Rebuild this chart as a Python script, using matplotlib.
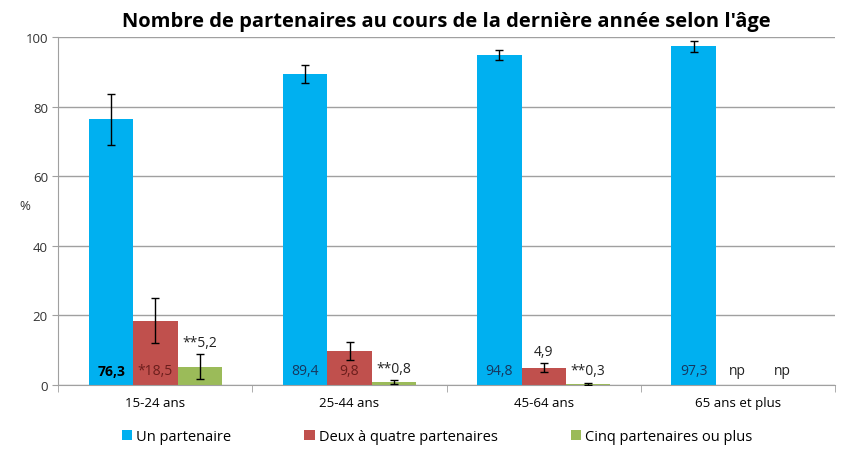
import matplotlib.pyplot as plt
import numpy as np

plt.rcParams['font.family'] = ['Open Sans', 'DejaVu Sans']

ages = ['15-24 ans', '25-44 ans', '45-64 ans', '65 ans et plus']
series = ['Un partenaire', 'Deux à quatre partenaires', 'Cinq partenaires ou plus']

un = [76.3, 89.4, 94.8, 97.3]
deux = [18.5, 9.8, 4.9, np.nan]
cinq = [5.2, 0.8, 0.3, np.nan]

err_un = [7.2, 2.6, 1.5, 1.5]
err_deux = [6.5, 2.6, 1.3, np.nan]
err_cinq = [3.6, 0.6, 0.3, np.nan]

lab_un = ['76,3', '89,4', '94,8', '97,3']
lab_deux = ['*18,5', '9,8', '4,9', 'np']
lab_cinq = ['**5,2', '**0,8', '**0,3', 'np']

colors = ['#00B0F0', '#C0504D', '#9BBB59']

fig = plt.figure(figsize=(8.45, 4.52), dpi=100)
ax = fig.add_axes([0.069, 0.146, 0.919, 0.77])

x = np.arange(len(ages))
w = 0.228
vals = [un, deux, cinq]
errs = [err_un, err_deux, err_cinq]
for i, (v, e) in enumerate(zip(vals, errs)):
    ax.bar(x + (i - 1) * w, v, w, color=colors[i], label=series[i], zorder=2,
           yerr=e, error_kw=dict(ecolor='black', elinewidth=1, capsize=3, capthick=1, zorder=3))

# étiquettes
for j in range(len(ages)):
    ax.text(x[j] - w, 2, lab_un[j], ha='center', va='bottom', fontsize=10,
            color='black' if j == 0 else '#17375E', fontweight='bold' if j == 0 else 'normal', zorder=4)
    # deux
    if j < 2:
        ax.text(x[j], 2, lab_deux[j], ha='center', va='bottom', fontsize=10, color='#6B1E1C', zorder=4)
    elif j == 2:
        ax.text(x[j], deux[j] + err_deux[j] + 1.2, lab_deux[j], ha='center', va='bottom',
                fontsize=10, color='#222222', zorder=4)
    else:
        ax.text(x[j], 2, lab_deux[j], ha='center', va='bottom', fontsize=10, color='#222222', zorder=4)
    # cinq
    if j < 3:
        ax.text(x[j] + w, cinq[j] + err_cinq[j] + 1.3, lab_cinq[j], ha='center', va='bottom',
                fontsize=10, color='#222222', zorder=4)
    else:
        ax.text(x[j] + w, 2, lab_cinq[j], ha='center', va='bottom', fontsize=10, color='#222222', zorder=4)

ax.set_xlim(-0.5, len(ages) - 0.5)
ax.set_ylim(0, 100)
ax.set_yticks(range(0, 101, 20))
ax.grid(axis='y', color='#A0A0A0', linewidth=1, zorder=0)
ax.set_xticks(x)
ax.set_xticklabels(ages, fontsize=9.5)
ax.set_xticks(np.arange(-0.5, len(ages)), minor=True)
ax.tick_params(axis='x', which='major', length=0, pad=8)
ax.tick_params(axis='x', which='minor', length=5, color='#A0A0A0')
ax.tick_params(axis='y', labelsize=9.5, length=4, color='#A0A0A0', labelcolor='#333333')
for s in ['top', 'right']:
    ax.spines[s].set_visible(False)
for s in ['left', 'bottom']:
    ax.spines[s].set_color('#A0A0A0')
fig.text(25 / 845, 1 - 207 / 452, '%', ha='center', va='center', fontsize=9.5, color='#333333')

ax.set_title("Nombre de partenaires au cours de la dernière année selon l'âge",
             fontsize=14.5, fontweight='bold', pad=8)

ax.legend(loc='upper center', bbox_to_anchor=(0.488, -0.09), ncol=3, frameon=False,
          fontsize=10.5, handlelength=0.7, handleheight=0.7, columnspacing=5.0, handletextpad=0.3)

plt.savefig('out.png', dpi=100)
